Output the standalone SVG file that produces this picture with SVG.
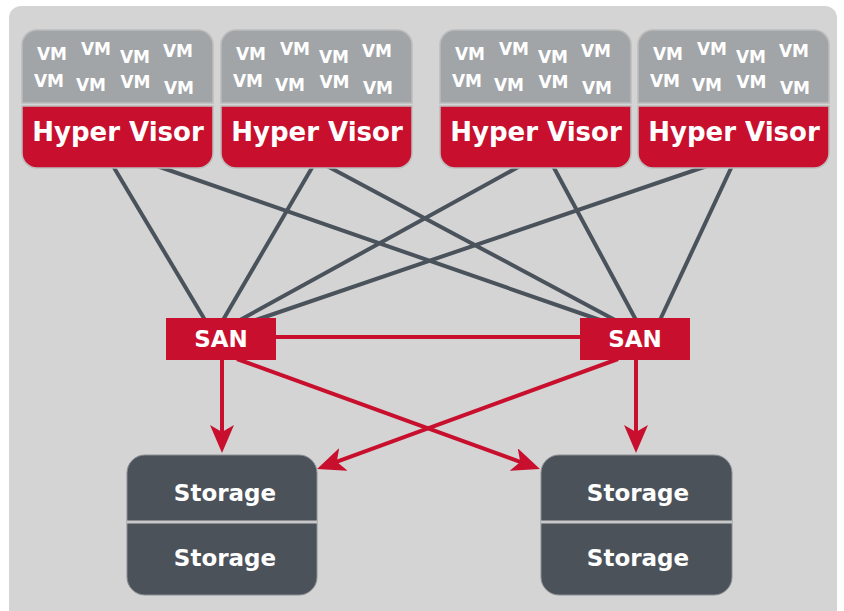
<svg xmlns="http://www.w3.org/2000/svg" width="844" height="611" viewBox="0 0 844 611">
  <style>
    .vm { font-family: "DejaVu Sans", Verdana, sans-serif; font-weight: bold; font-size: 17px; fill: #ffffff; text-anchor: middle; }
    .hv { font-family: "DejaVu Sans", Verdana, sans-serif; font-weight: bold; font-size: 26px; fill: #ffffff; text-anchor: middle; }
    .lbl { font-family: "DejaVu Sans", Verdana, sans-serif; font-weight: bold; font-size: 23px; fill: #ffffff; text-anchor: middle; }
    .vmarea { fill: #a2a5a8; stroke: #bcbcbc; stroke-width: 1.5; }
    .hvbar { fill: #c8102e; stroke: #bcbcbc; stroke-width: 1.5; }
    .san { fill: #c8102e; }
    .store { fill: #4b525a; stroke: #8a8f94; stroke-width: 1; }
    .link { stroke: #4a535b; stroke-width: 4; fill: none; }
    .red { stroke: #c8102e; stroke-width: 4; fill: none; }
  </style>
  <defs>
    <marker id="arrow" markerUnits="userSpaceOnUse" viewBox="0 0 28 24" refX="14" refY="12" markerWidth="28" markerHeight="24" orient="auto">
      <path d="M0,0 L28,12 L0,24 L7,12 z" fill="#c8102e"/>
    </marker>
  </defs>

  <rect x="0" y="0" width="844" height="611" fill="#ffffff"/>
  <rect x="9" y="6" width="828" height="620" rx="12" fill="#d4d4d4"/>

  <g id="connectors">
    <line class="link" x1="113" y1="166" x2="205" y2="320"/>
    <line class="link" x1="157" y1="166" x2="600" y2="320"/>
    <line class="link" x1="313" y1="166" x2="223" y2="320"/>
    <line class="link" x1="327" y1="166" x2="615" y2="320"/>
    <line class="link" x1="520" y1="166" x2="240" y2="320"/>
    <line class="link" x1="553" y1="166" x2="636" y2="320"/>
    <line class="link" x1="707" y1="166" x2="256" y2="320"/>
    <line class="link" x1="732" y1="166" x2="660" y2="320"/>
    <line class="red" x1="274" y1="337" x2="582" y2="337"/>
    <line class="red" x1="222" y1="358" x2="222" y2="439" marker-end="url(#arrow)"/>
    <line class="red" x1="636" y1="358" x2="636" y2="439" marker-end="url(#arrow)"/>
    <line class="red" x1="237" y1="359" x2="526.8" y2="464.3" marker-end="url(#arrow)"/>
    <line class="red" x1="618" y1="359" x2="330.2" y2="464.2" marker-end="url(#arrow)"/>
  </g>

  <g id="host1" transform="translate(22,0)">
    <path class="vmarea" d="M0,103 V45 A15,15 0 0 1 15,30 H176 A15,15 0 0 1 191,45 V103 Z"/>
    <path class="hvbar" d="M0,106 H191 V153 A15,15 0 0 1 176,168 H15 A15,15 0 0 1 0,153 Z"/>
    <text class="vm" x="30" y="60">VM</text>
    <text class="vm" x="74" y="55">VM</text>
    <text class="vm" x="113" y="63">VM</text>
    <text class="vm" x="156" y="57">VM</text>
    <text class="vm" x="27" y="87">VM</text>
    <text class="vm" x="69" y="91">VM</text>
    <text class="vm" x="113.5" y="88">VM</text>
    <text class="vm" x="157" y="94">VM</text>
    <text class="hv" x="96" y="141">Hyper Visor</text>
  </g>

  <g id="host2" transform="translate(221,0)">
    <path class="vmarea" d="M0,103 V45 A15,15 0 0 1 15,30 H176 A15,15 0 0 1 191,45 V103 Z"/>
    <path class="hvbar" d="M0,106 H191 V153 A15,15 0 0 1 176,168 H15 A15,15 0 0 1 0,153 Z"/>
    <text class="vm" x="30" y="60">VM</text>
    <text class="vm" x="74" y="55">VM</text>
    <text class="vm" x="113" y="63">VM</text>
    <text class="vm" x="156" y="57">VM</text>
    <text class="vm" x="27" y="87">VM</text>
    <text class="vm" x="69" y="91">VM</text>
    <text class="vm" x="113.5" y="88">VM</text>
    <text class="vm" x="157" y="94">VM</text>
    <text class="hv" x="96" y="141">Hyper Visor</text>
  </g>

  <g id="host3" transform="translate(440,0)">
    <path class="vmarea" d="M0,103 V45 A15,15 0 0 1 15,30 H176 A15,15 0 0 1 191,45 V103 Z"/>
    <path class="hvbar" d="M0,106 H191 V153 A15,15 0 0 1 176,168 H15 A15,15 0 0 1 0,153 Z"/>
    <text class="vm" x="30" y="60">VM</text>
    <text class="vm" x="74" y="55">VM</text>
    <text class="vm" x="113" y="63">VM</text>
    <text class="vm" x="156" y="57">VM</text>
    <text class="vm" x="27" y="87">VM</text>
    <text class="vm" x="69" y="91">VM</text>
    <text class="vm" x="113.5" y="88">VM</text>
    <text class="vm" x="157" y="94">VM</text>
    <text class="hv" x="96" y="141">Hyper Visor</text>
  </g>

  <g id="host4" transform="translate(638,0)">
    <path class="vmarea" d="M0,103 V45 A15,15 0 0 1 15,30 H176 A15,15 0 0 1 191,45 V103 Z"/>
    <path class="hvbar" d="M0,106 H191 V153 A15,15 0 0 1 176,168 H15 A15,15 0 0 1 0,153 Z"/>
    <text class="vm" x="30" y="60">VM</text>
    <text class="vm" x="74" y="55">VM</text>
    <text class="vm" x="113" y="63">VM</text>
    <text class="vm" x="156" y="57">VM</text>
    <text class="vm" x="27" y="87">VM</text>
    <text class="vm" x="69" y="91">VM</text>
    <text class="vm" x="113.5" y="88">VM</text>
    <text class="vm" x="157" y="94">VM</text>
    <text class="hv" x="96" y="141">Hyper Visor</text>
  </g>

  <g id="san1">
    <rect class="san" x="166" y="318" width="110" height="42"/>
    <text class="lbl" x="221" y="347">SAN</text>
  </g>
  <g id="san2">
    <rect class="san" x="580" y="318" width="110" height="42"/>
    <text class="lbl" x="635" y="347">SAN</text>
  </g>

  <g id="storage1">
    <rect class="store" x="127" y="455" width="190" height="140" rx="18"/>
    <line x1="127" y1="522" x2="317" y2="522" stroke="#c8c8c8" stroke-width="3"/>
    <text class="lbl" x="225" y="501">Storage</text>
    <text class="lbl" x="225" y="566">Storage</text>
  </g>
  <g id="storage2">
    <rect class="store" x="541" y="455" width="191" height="140" rx="18"/>
    <line x1="541" y1="522" x2="732" y2="522" stroke="#c8c8c8" stroke-width="3"/>
    <text class="lbl" x="638" y="501">Storage</text>
    <text class="lbl" x="638" y="566">Storage</text>
  </g>
</svg>
